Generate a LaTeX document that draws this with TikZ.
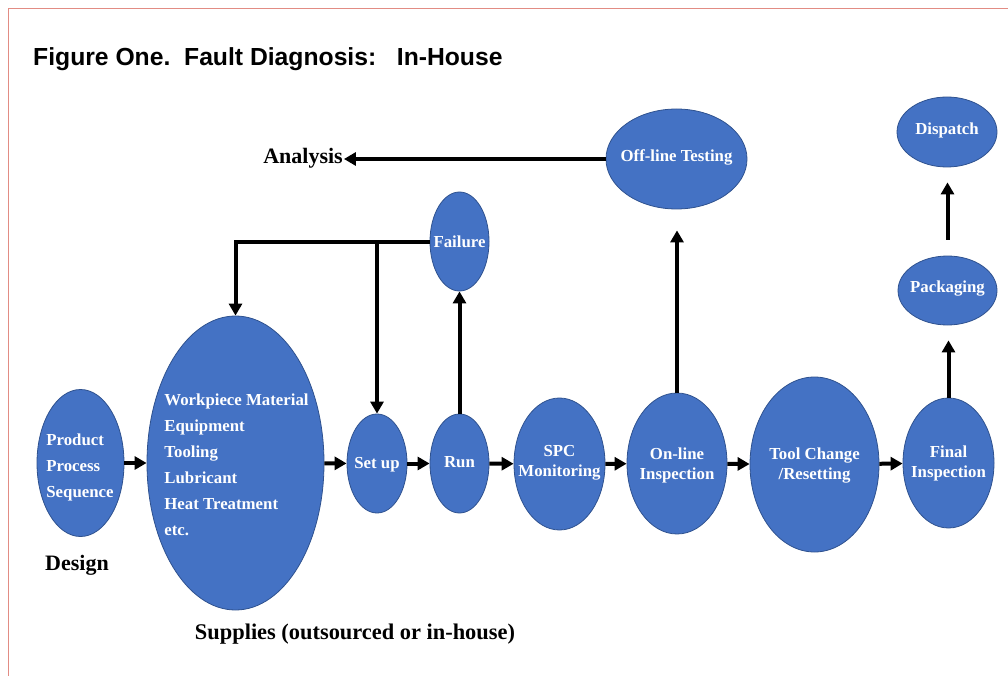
\documentclass[tikz,border=0pt]{standalone}
\usepackage{fontspec}
\setmainfont{Liberation Serif}
\newfontfamily\arialfont{Liberation Sans}
\usetikzlibrary{shapes.geometric,arrows.meta}
\definecolor{ellblue}{RGB}{68,114,196}
\definecolor{ellborder}{RGB}{47,82,143}
\definecolor{bordercol}{RGB}{226,140,132}
\tikzset{
  ell/.style={ellipse, draw=ellborder, fill=ellblue, line width=0.8pt, inner sep=0pt},
  lab/.style={text=white, font=\bfseries\fontsize{16.8}{20}\selectfont, align=center, inner sep=0pt},
  lableft/.style={text=white, font=\bfseries\fontsize{16.8}{26}\selectfont, align=left, inner sep=0pt},
  arr/.style={line width=4pt, -{Triangle[length=12pt,width=13pt]}},
  caption/.style={font=\bfseries\fontsize{22}{26}\selectfont, inner sep=1pt}
}
\begin{document}
\begin{tikzpicture}[x=1pt,y=-1pt]
\useasboundingbox (0,0) rectangle (1008,676);
\draw[bordercol, line width=1.5pt] (8.5,676) -- (8.5,8.5) -- (1008,8.5);

\node[anchor=base west, inner sep=0pt, font=\arialfont\bfseries\fontsize{24.7}{28}\selectfont] (title) at (33,66) {Figure One.\ \ Fault Diagnosis:\ \ \ In-House};

% ellipses
\node[ell, minimum width=87pt, minimum height=147pt] (design) at (80.5,463) {};
\node[ell, minimum width=177pt, minimum height=294pt] (supplies) at (235.5,463) {};
\node[ell, minimum width=60pt, minimum height=99pt] (setup) at (377,463.5) {};
\node[ell, minimum width=59pt, minimum height=99pt] (run) at (459.5,463.5) {};
\node[ell, minimum width=59pt, minimum height=99pt] (failure) at (459.5,241.5) {};
\node[ell, minimum width=91pt, minimum height=132pt] (spc) at (559.5,464) {};
\node[ell, minimum width=100pt, minimum height=141pt] (online) at (677,463.5) {};
\node[ell, minimum width=129pt, minimum height=175pt] (tool) at (814.5,464.5) {};
\node[ell, minimum width=91pt, minimum height=130pt] (final) at (948.5,463) {};
\node[ell, minimum width=99pt, minimum height=69pt] (pack) at (947.5,290.5) {};
\node[ell, minimum width=100pt, minimum height=70pt] (dispatch) at (947,132) {};
\node[ell, minimum width=141pt, minimum height=100pt] (offline) at (676.5,159) {};

% texts in ellipses
\node[lableft] (tdesign) at (80,467) {Product\\Process\\Sequence};
\node[lableft] (tsupplies) at (236.5,464.5) {Workpiece Material\\Equipment\\Tooling\\Lubricant\\Heat Treatment\\etc.};
\node[lab] (tsetup) at (377,465) {Set up};
\node[lab] (trun) at (459.5,462) {Run};
\node[lab] (tfailure) at (459.5,242) {Failure};
\node[lab] (tspc) at (559.5,463) {SPC\\Monitoring};
\node[lab] (tonline) at (677,465) {On-line\\Inspection};
\node[lab] (ttool) at (814.5,465.5) {Tool Change\\/Resetting};
\node[lab] (tfinal) at (948.5,463) {Final\\Inspection};
\node[lab] (tpack) at (947.5,289) {Packaging};
\node[lab] (tdispatch) at (947,130) {Dispatch};
\node[lab] (toffline) at (676.5,157) {Off-line Testing};

% captions
\node[caption] (analysis) at (303,158) {Analysis};
\node[caption] (designlab) at (77,565) {Design};
\node[caption, font=\bfseries\fontsize{22.4}{26}\selectfont] (supplab) at (355,634) {Supplies (outsourced or in-house)};

% main flow
\draw[arr] (design) -- (supplies);
\draw[arr] (supplies) -- (setup);
\draw[arr] (setup) -- (run);
\draw[arr] (run) -- (spc);
\draw[arr] (spc) -- (online);
\draw[arr] (online) -- (tool);
\draw[arr] (tool) -- (final);

% vertical flows
\draw[arr] (run.north) -- (failure.south);
\draw[arr, shorten >=21pt] (online.north) -- (online.north |- offline.south);
\draw[arr, shorten >=15pt] (final.north) -- (final.north |- pack.south);
\draw[arr, shorten <=16pt, shorten >=15pt] (pack.north) -- (pack.north |- dispatch.south);

% feedback
\draw[arr] (failure.west) -| (supplies.north);
\coordinate (split) at (377,241.5);
\draw[arr] (split) -- (setup.north);

% to analysis
\draw[arr] (offline.west) -- (offline.west -| analysis.east);
\end{tikzpicture}
\end{document}
